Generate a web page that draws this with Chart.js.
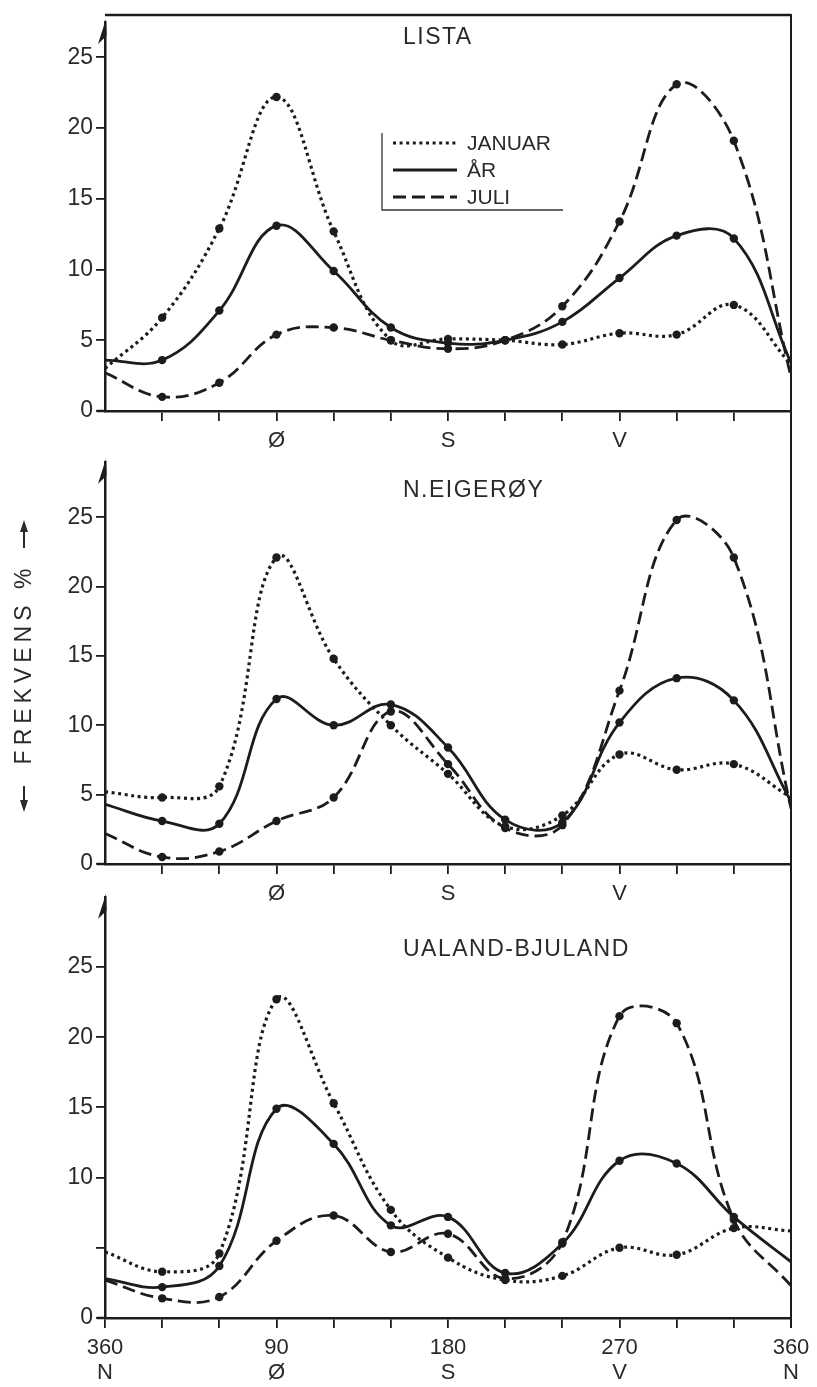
<!DOCTYPE html>
<html>
<head>
<meta charset="utf-8">
<script src="https://cdn.jsdelivr.net/npm/chart.js@4.4.1/dist/chart.umd.min.js"></script>
<style>
  html, body { margin: 0; padding: 0; background: #fff; }
  #wrap { position: relative; width: 817px; height: 1387px; overflow: hidden; }
  .panel { position: absolute; left: 0; width: 817px; }
  #rightEdge { position: absolute; left: 790px; top: 14px; width: 0; height: 1314px; border-left: 2.5px solid #1c1c1c; }
</style>
</head>
<body>
<div id="wrap">
  <div class="panel" style="top:0;height:470px"><canvas id="lista"></canvas></div>
  <div class="panel" style="top:445px;height:470px"><canvas id="eigeroy"></canvas></div>
  <div class="panel" style="top:880px;height:507px"><canvas id="ualand"></canvas></div>
  <div id="rightEdge"></div>
</div>
<script>
// vindretning i grader, 30 graders sektorer
const directions = [0, 30, 60, 90, 120, 150, 180, 210, 240, 270, 300, 330, 360];
const seriesNames = ['JANUAR', 'ÅR', 'JULI'];
const yTicks = [0, 5, 10, 15, 20, 25];

const listaJanuar = [3.0, 6.6, 12.9, 22.2, 12.7, 5.0, 5.1, 5.0, 4.7, 5.5, 5.4, 7.5, 3.3];
const listaAar    = [3.6, 3.6, 7.1, 13.1, 9.9, 5.9, 4.8, 5.0, 6.3, 9.4, 12.4, 12.2, 3.4];
const listaJuli   = [2.7, 1.0, 2.0, 5.4, 5.9, 5.0, 4.4, 5.0, 7.4, 13.4, 23.1, 19.1, 2.4];

const eigeroyJanuar = [5.2, 4.8, 5.6, 22.1, 14.8, 10.0, 6.5, 2.7, 3.5, 7.9, 6.8, 7.2, 4.8];
const eigeroyAar    = [4.3, 3.1, 2.9, 11.9, 10.0, 11.5, 8.4, 3.2, 3.0, 10.2, 13.4, 11.8, 4.5];
const eigeroyJuli   = [2.2, 0.5, 0.9, 3.1, 4.8, 11.0, 7.2, 2.6, 2.8, 12.5, 24.8, 22.1, 4.0];

const ualandJanuar = [4.7, 3.3, 4.6, 22.7, 15.3, 7.7, 4.3, 2.7, 3.0, 5.0, 4.5, 6.4, 6.2];
const ualandAar    = [2.8, 2.2, 3.7, 14.9, 12.4, 6.6, 7.2, 3.2, 5.3, 11.2, 11.0, 7.2, 4.0];
const ualandJuli   = [2.7, 1.4, 1.5, 5.5, 7.3, 4.7, 6.0, 2.8, 5.4, 21.5, 21.0, 7.0, 2.3];

const ink = '#1c1c1c';
const fontFamily = '"Liberation Sans", Arial, sans-serif';
const compass = { 90: 'Ø', 180: 'S', 270: 'V' };
const compassFull = { 0: ['360', 'N'], 90: ['90', 'Ø'], 180: ['180', 'S'], 270: ['270', 'V'], 360: ['360', 'N'] };

const lineStyles = [
  { borderDash: [3, 3.6], borderWidth: 3.2 },
  { borderDash: [], borderWidth: 2.8 },
  { borderDash: [13, 6], borderWidth: 2.8 }
];

function makeDatasets(values) {
  return values.map((v, i) => ({
    label: seriesNames[i],
    data: directions.map((d, k) => ({ x: d, y: v[k] })),
    borderColor: ink,
    borderDash: lineStyles[i].borderDash,
    borderWidth: lineStyles[i].borderWidth,
    tension: 0.4,
    pointRadius: directions.map(d => (d === 0 || d === 360) ? 0 : 4.2),
    pointBackgroundColor: ink,
    pointBorderWidth: 0,
    fill: false
  }));
}

// pil på y-aksen, toppstrek, stasjonsnavn, tegnforklaring
const framePlugin = {
  id: 'frame',
  afterDraw(chart, args, opts) {
    const { ctx, chartArea: a } = chart;
    ctx.save();
    ctx.strokeStyle = ink;
    ctx.fillStyle = ink;
    ctx.lineCap = 'butt';

    ctx.beginPath();
    ctx.moveTo(a.left + 1, a.top - 3);
    ctx.lineTo(a.left - 7, a.top + 22);
    ctx.lineTo(a.left + 1.5, a.top + 14);
    ctx.closePath();
    ctx.fill();

    ctx.lineWidth = 2.5;
    ctx.beginPath();
    ctx.moveTo(a.left - 8, a.bottom);
    ctx.lineTo(a.left, a.bottom);
    ctx.stroke();

    if (opts.topLine != null) {
      ctx.beginPath();
      ctx.moveTo(a.left, opts.topLine);
      ctx.lineTo(a.right, opts.topLine);
      ctx.stroke();
    }

    ctx.font = '23px ' + fontFamily;
    ctx.letterSpacing = '1.5px';
    ctx.textBaseline = 'middle';
    ctx.textAlign = 'left';
    ctx.fillStyle = '#2a2a2a';
    ctx.fillText(opts.title, 403, opts.titleY);

    if (opts.legend) {
      const lg = opts.legend;
      ctx.letterSpacing = '0px';
      ctx.lineWidth = 1.3;
      ctx.strokeStyle = '#333';
      ctx.beginPath();
      ctx.moveTo(lg.left, lg.top);
      ctx.lineTo(lg.left, lg.bottom);
      ctx.lineTo(lg.right, lg.bottom);
      ctx.stroke();
      ctx.font = '21px ' + fontFamily;
      chart.data.datasets.forEach((ds, i) => {
        const y = lg.rows[i];
        ctx.strokeStyle = ink;
        ctx.lineWidth = ds.borderWidth;
        ctx.setLineDash(ds.borderDash);
        ctx.beginPath();
        ctx.moveTo(lg.sampleFrom, y);
        ctx.lineTo(lg.sampleTo, y);
        ctx.stroke();
        ctx.setLineDash([]);
        ctx.fillStyle = '#2a2a2a';
        ctx.fillText(ds.label, lg.textX, y + 1);
      });
    }

    if (opts.yTitle) {
      const t = opts.yTitle;
      ctx.translate(t.x, t.y);
      ctx.rotate(-Math.PI / 2);
      ctx.font = '23px ' + fontFamily;
      ctx.letterSpacing = '5px';
      ctx.textAlign = 'center';
      ctx.fillStyle = '#2a2a2a';
      ctx.fillText('FREKVENS %', 2, 1);
      ctx.strokeStyle = '#2a2a2a';
      ctx.lineWidth = 2;
      ctx.beginPath();
      ctx.moveTo(118, 0); ctx.lineTo(142, 0);
      ctx.moveTo(-120, 0); ctx.lineTo(-142, 0);
      ctx.stroke();
      ctx.beginPath();
      ctx.moveTo(146, 0); ctx.lineTo(134, -4); ctx.lineTo(134, 4); ctx.closePath();
      ctx.moveTo(-146, 0); ctx.lineTo(-134, -4); ctx.lineTo(-134, 4); ctx.closePath();
      ctx.fill();
    }
    ctx.restore();
  }
};

function makeChart(id, values, cfg) {
  return new Chart(document.getElementById(id), {
    type: 'line',
    data: { datasets: makeDatasets(values) },
    plugins: [framePlugin],
    options: {
      responsive: true,
      maintainAspectRatio: false,
      animation: false,
      events: [],
      layout: { autoPadding: false, padding: { left: 0, right: 26, top: cfg.top, bottom: 0 } },
      plugins: {
        legend: { display: false },
        tooltip: { enabled: false },
        frame: cfg.frame
      },
      scales: {
        x: {
          type: 'linear',
          min: 0,
          max: 360,
          afterFit: s => { s.height = cfg.xHeight; },
          afterBuildTicks: s => { s.ticks = directions.map(d => ({ value: d })); },
          border: { display: true, color: ink, width: 2.5 },
          grid: {
            drawOnChartArea: false,
            drawTicks: true,
            tickLength: 10,
            lineWidth: 1.8,
            color: c => (!cfg.edgeTicks && c.tick && (c.tick.value === 0 || c.tick.value === 360)) ? 'rgba(0,0,0,0)' : ink
          },
          ticks: {
            autoSkip: false,
            maxRotation: 0,
            padding: cfg.xPad,
            color: '#2a2a2a',
            font: { family: fontFamily, size: 22, lineHeight: 1.15 },
            callback: v => cfg.xLabels[v] || ''
          }
        },
        y: {
          min: 0,
          max: cfg.yMax,
          afterFit: s => { s.width = 105; },
          afterBuildTicks: s => { s.ticks = yTicks.map(v => ({ value: v })); },
          border: { display: true, color: ink, width: 2.5 },
          grid: { drawOnChartArea: false, drawTicks: true, tickLength: 9, lineWidth: 1.8, color: ink },
          ticks: {
            padding: 3,
            color: '#2a2a2a',
            font: { family: fontFamily, size: 23 },
            callback: v => (cfg.hideFive && v === 5) ? '' : String(v)
          }
        }
      }
    }
  });
}

makeChart('lista', [listaJanuar, listaAar, listaJuli], {
  top: 22, xHeight: 59, yMax: 27.5, xPad: 7, xLabels: compass, edgeTicks: false,
  frame: {
    title: 'LISTA', titleY: 38, topLine: 15,
    legend: { left: 382, top: 133, bottom: 210, right: 563, sampleFrom: 393, sampleTo: 457, textX: 467, rows: [143, 170, 197] }
  }
});

makeChart('eigeroy', [eigeroyJanuar, eigeroyAar, eigeroyJuli], {
  top: 10, xHeight: 51, yMax: 29.0, xPad: 7, xLabels: compass, edgeTicks: false,
  frame: {
    title: 'N.EIGERØY', titleY: 46,
    yTitle: { x: 24, y: 221 }
  }
});

makeChart('ualand', [ualandJanuar, ualandAar, ualandJuli], {
  top: 15, xHeight: 69, yMax: 30.0, xPad: 7, xLabels: compassFull, edgeTicks: true, hideFive: true,
  frame: {
    title: 'UALAND-BJULAND', titleY: 70
  }
});
</script>
</body>
</html>
